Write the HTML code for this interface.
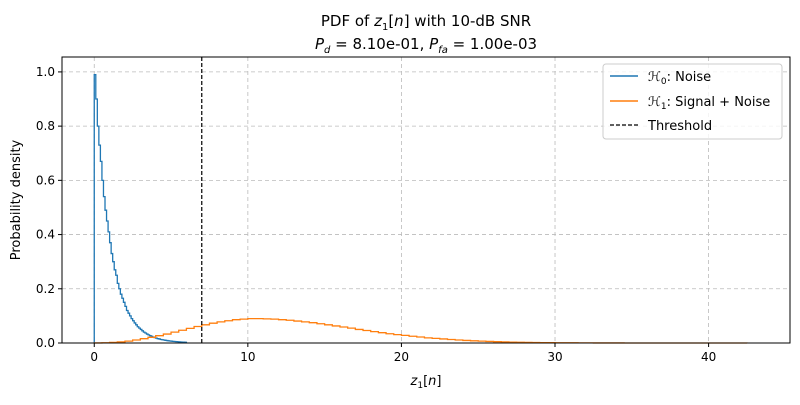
<!DOCTYPE html>
<html><head><meta charset="utf-8"><style>
body{margin:0;background:#fff;font-family:"Liberation Sans","DejaVu Sans",sans-serif}
svg text{font-family:"DejaVu Sans","Liberation Sans",sans-serif}
</style></head><body>
<svg id="c" width="800" height="400">
<rect x="0" y="0" width="800" height="400" fill="#fff"/>
<text x="426" y="26" text-anchor="middle" font-size="15">PDF of <tspan font-style="italic">z</tspan><tspan font-size="10" dy="4">1</tspan><tspan dy="-4">[</tspan><tspan font-style="italic">n</tspan>] with 10-dB SNR</text>
<text x="426" y="49" text-anchor="middle" font-size="15"><tspan font-style="italic">P</tspan><tspan font-size="10" dy="4" font-style="italic">d</tspan><tspan dy="-4"> =  8.10e-01, </tspan><tspan font-style="italic">P</tspan><tspan font-size="10" dy="4" font-style="italic">fa</tspan><tspan dy="-4"> =  1.00e-03</tspan></text>
<g id="grid"></g><g id="series"></g><g id="axes"></g>
<g>
<rect x="603" y="64" width="179" height="75" rx="3" fill="#fff" fill-opacity="0.8" stroke="#ccc"/>
<line x1="610" y1="76" x2="638" y2="76" stroke="#1f77b4" stroke-width="1.5"/>
<text x="648" y="81" font-size="13"><tspan font-style="italic">ℋ</tspan><tspan font-size="9" dy="3">0</tspan><tspan dy="-3">: Noise</tspan></text>
<line x1="610" y1="101" x2="638" y2="101" stroke="#ff7f0e" stroke-width="1.5"/>
<text x="648" y="106" font-size="13"><tspan font-style="italic">ℋ</tspan><tspan font-size="9" dy="3">1</tspan><tspan dy="-3">: Signal + Noise</tspan></text>
<line x1="610" y1="125" x2="638" y2="125" stroke="#000" stroke-width="1.2" stroke-dasharray="4,2"/>
<text x="648" y="130" font-size="13">Threshold</text>
</g>
</svg>
<script>
const xTicks=[0,10,20,30,40];
const yTicks=[0.0,0.2,0.4,0.6,0.8,1.0];
const noiseStart=0, noiseWidth=0.1;
const noiseVals=[0.99,0.90,0.80,0.73,0.67,0.60,0.54,0.49,0.45,0.41,
0.37,0.33,0.30,0.27,0.25,0.22,0.20,0.18,0.165,0.15,
0.135,0.12,0.11,0.10,0.09,0.082,0.074,0.067,0.06,0.055,
0.05,0.045,0.04,0.037,0.033,0.03,0.027,0.025,0.022,0.02,
0.018,0.016,0.015,0.013,0.012,0.011,0.01,0.009,0.008,0.0075,
0.0067,0.006,0.0055,0.005,0.0045,0.004,0.0037,0.0033,0.003,0.0027];
const sigStart=0, sigWidth=0.5;
const sigVals=[0.0003,0.001,0.002,0.004,0.007,0.011,0.016,0.021,0.027,0.033,
0.04,0.047,0.054,0.061,0.067,0.073,0.078,0.082,0.086,0.088,
0.09,0.09,0.089,0.088,0.086,0.084,0.081,0.078,0.075,0.071,
0.067,0.063,0.059,0.055,0.05,0.046,0.042,0.038,0.034,0.031,
0.028,0.025,0.022,0.019,0.017,0.015,0.013,0.011,0.0095,0.008,
0.0068,0.0057,0.0048,0.004,0.0033,0.0027,0.0022,0.0018,0.0015,0.0012,
0.001,0.0008,0.0006,0.0005,0.0004,0.0003,0.00025,0.0002,0.00015,0.0001,
0.0001,0.0001,0.00008,0.00006,0.00005,0.00004,0.00003,0.00003,0.00002,0.00002,
0.00001,0.00001,0.00001,0.00001,0.00001];
const threshold=7.0;
const X0=62,X1=790,Y0=57,Y1=343,xmin=-2.1,xmax=45.3,ymin=0,ymax=1.055;
const sx=v=>X0+(v-xmin)/(xmax-xmin)*(X1-X0);
const sy=v=>Y1-(v-ymin)/(ymax-ymin)*(Y1-Y0);
const NS="http://www.w3.org/2000/svg";
function mk(t,a,p){const e=document.createElementNS(NS,t);for(const k in a)e.setAttribute(k,a[k]);p.appendChild(e);return e;}
const G=document.getElementById('grid'),S=document.getElementById('series'),A=document.getElementById('axes');
xTicks.forEach(t=>{const l=mk('line',{x1:sx(t),x2:sx(t),y1:Y0,y2:Y1,stroke:'#bbb','stroke-dasharray':'4,3','stroke-width':0.8},G);

mk('line',{x1:sx(t),x2:sx(t),y1:Y1,y2:Y1+4,stroke:'#000'},A);
const tx=mk('text',{x:sx(t),y:Y1+18,'text-anchor':'middle','font-size':12},A);tx.textContent=t;
});
yTicks.forEach(t=>{const l=mk('line',{x1:X0,x2:X1,y1:sy(t),y2:sy(t),stroke:'#bbb','stroke-dasharray':'4,3','stroke-width':0.8},G);

mk('line',{x1:X0-4,x2:X0,y1:sy(t),y2:sy(t),stroke:'#000'},A);
const tx=mk('text',{x:X0-7,y:sy(t)+4,'text-anchor':'end','font-size':12},A);tx.textContent=t.toFixed(1);
});
function step(start,w,vals){let d=`M${sx(start)},${sy(0)}`;vals.forEach((v,i)=>{d+=` L${sx(start+i*w)},${sy(v)} L${sx(start+(i+1)*w)},${sy(v)}`;});d+=` L${sx(start+vals.length*w)},${sy(0)}`;return d;}
const pn=mk('path',{d:step(noiseStart,noiseWidth,noiseVals),fill:'none',stroke:'#1f77b4','stroke-width':1.3},S);

const ps=mk('path',{d:step(sigStart,sigWidth,sigVals),fill:'none',stroke:'#ff7f0e','stroke-width':1.3},S);

const th=mk('line',{x1:sx(threshold),x2:sx(threshold),y1:Y0,y2:Y1,stroke:'#000','stroke-width':1.2,'stroke-dasharray':'4,2'},S);

const fr=mk('rect',{x:X0,y:Y0,width:X1-X0,height:Y1-Y0,fill:'none',stroke:'#000','stroke-width':1},A);

const xl=mk('text',{x:(X0+X1)/2,y:385,'text-anchor':'middle','font-size':13},A);
xl.innerHTML='<tspan font-style="italic">z</tspan><tspan font-size="9" dy="3">1</tspan><tspan dy="-3">[</tspan><tspan font-style="italic">n</tspan>]';

const yl=mk('text',{x:20,y:(Y0+Y1)/2,'text-anchor':'middle','font-size':13,transform:`rotate(-90 20 ${(Y0+Y1)/2})`},A);
yl.textContent='Probability density';

</script>
</body></html>
